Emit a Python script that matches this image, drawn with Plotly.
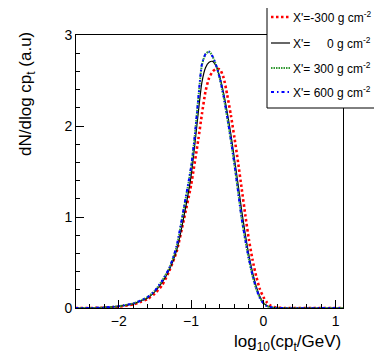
import plotly.graph_objects as go

# log10(cp_t/GeV) sample points
x_m300 = [-2.6, -2.4, -2.2, -2.0, -1.8, -1.7, -1.6, -1.5, -1.4, -1.3, -1.2, -1.1, -1.0, -0.9, -0.85,
          -0.8, -0.75, -0.7, -0.65, -0.6, -0.55, -0.5, -0.45, -0.4, -0.35, -0.3, -0.25, -0.2, -0.15,
          -0.1, -0.05, 0.0, 0.05, 0.1, 0.15, 0.2, 0.3, 1.1]
y_m300 = [0.0, 0.0, 0.004, 0.015, 0.04, 0.065, 0.10, 0.16, 0.25, 0.41, 0.62, 0.97, 1.35, 1.85, 2.13,
          2.38, 2.53, 2.60, 2.63, 2.62, 2.53, 2.34, 2.12, 1.87, 1.60, 1.31, 1.02, 0.75, 0.53,
          0.35, 0.21, 0.12, 0.06, 0.025, 0.01, 0.004, 0.0, 0.0]

x_0 = [-2.6, -2.4, -2.2, -2.0, -1.8, -1.7, -1.6, -1.5, -1.4, -1.3, -1.2, -1.1, -1.0, -0.95, -0.9,
       -0.85, -0.8, -0.75, -0.7, -0.65, -0.6, -0.55, -0.5, -0.45, -0.4, -0.35, -0.3, -0.25, -0.2,
       -0.15, -0.1, -0.05, 0.0, 0.05, 0.1, 0.2, 1.1]
y_0 = [0.0, 0.0, 0.004, 0.018, 0.045, 0.075, 0.11, 0.18, 0.28, 0.42, 0.63, 1.0, 1.45, 1.78, 2.15,
       2.48, 2.64, 2.70, 2.71, 2.65, 2.53, 2.36, 2.15, 1.91, 1.64, 1.36, 1.07, 0.81, 0.58,
       0.39, 0.24, 0.13, 0.06, 0.025, 0.01, 0.0, 0.0]

x_300 = [-2.6, -2.4, -2.2, -2.0, -1.8, -1.7, -1.6, -1.5, -1.4, -1.3, -1.2, -1.1, -1.0, -0.95, -0.9,
         -0.85, -0.8, -0.75, -0.7, -0.65, -0.6, -0.55, -0.5, -0.45, -0.4, -0.35, -0.3, -0.25, -0.2,
         -0.15, -0.1, -0.05, 0.0, 0.05, 0.1, 0.2, 1.1]
y_300 = [0.0, 0.0, 0.005, 0.02, 0.05, 0.08, 0.12, 0.19, 0.30, 0.44, 0.67, 1.09, 1.54, 1.88, 2.30,
         2.67, 2.79, 2.82, 2.76, 2.66, 2.51, 2.32, 2.09, 1.84, 1.57, 1.28, 0.98, 0.74, 0.53,
         0.35, 0.21, 0.11, 0.05, 0.02, 0.008, 0.0, 0.0]

x_600 = [-2.6, -2.4, -2.2, -2.0, -1.8, -1.7, -1.6, -1.5, -1.4, -1.3, -1.2, -1.1, -1.0, -0.95, -0.9,
         -0.85, -0.8, -0.75, -0.7, -0.65, -0.6, -0.55, -0.5, -0.45, -0.4, -0.35, -0.3, -0.25, -0.2,
         -0.15, -0.1, -0.05, 0.0, 0.05, 0.1, 0.2, 1.1]
y_600 = [0.0, 0.0, 0.005, 0.02, 0.05, 0.08, 0.12, 0.19, 0.30, 0.44, 0.68, 1.10, 1.55, 1.88, 2.30,
         2.68, 2.79, 2.81, 2.76, 2.66, 2.52, 2.33, 2.10, 1.85, 1.58, 1.28, 0.98, 0.75, 0.54,
         0.36, 0.22, 0.11, 0.05, 0.02, 0.008, 0.0, 0.0]

labels = ["X'=-300 g cm<sup>-2</sup>",
          "X'=\u00a0\u00a0\u00a0\u00a0\u00a00 g cm<sup>-2</sup>",
          "X'= 300 g cm<sup>-2</sup>",
          "X'= 600 g cm<sup>-2</sup>"]

FONT = "Liberation Sans, Arial, sans-serif"
# positions below are in screen pixels of the 382x363 page; the page body has an 8px margin
OFF = 8
W, H = 382, 363
L, R, T, B = 76, 39, 35, 55
PW, PH = W - L - R, H - T - B


def px_x(p):
    return (p - L) / PW


def px_y(p):
    return (H - B - p) / PH


styles = [
    dict(color="#ff0000", width=2.6, dash="2.5px,2.5px"),
    dict(color="#000000", width=1.2, dash="solid"),
    dict(color="#339933", width=2.0, dash="1.5px,1px"),
    dict(color="#0000ff", width=2.0, dash="3px,3px,1.5px,3px"),
]
series = [(x_m300, y_m300), (x_0, y_0), (x_300, y_300), (x_600, y_600)]

fig = go.Figure()
for (xs, ys), st, lab in zip(series, styles, labels):
    fig.add_trace(go.Scatter(x=xs, y=ys, mode="lines", line=dict(shape="spline", smoothing=0.6, **st),
                             name=lab, showlegend=False))

fig.update_layout(
    width=W - OFF, height=H - OFF,
    margin=dict(l=L - OFF, r=R, t=T - OFF, b=B),
    paper_bgcolor="white", plot_bgcolor="white",
    font=dict(family=FONT, size=14, color="black"),
)
fig.update_xaxes(range=[-2.59, 1.1], dtick=1, tick0=0, ticks="inside", ticklen=8, tickcolor="black",
                 showline=True, linecolor="black", linewidth=1, mirror=True, showgrid=False, zeroline=False,
                 minor=dict(dtick=0.2, ticks="inside", ticklen=4, tickcolor="black"))
fig.update_yaxes(range=[0, 3], dtick=1, ticks="inside", ticklen=8, tickcolor="black",
                 showline=True, linecolor="black", linewidth=1, mirror=True, showgrid=False, zeroline=False,
                 minor=dict(dtick=0.2, ticks="inside", ticklen=4, tickcolor="black"))

# axis titles, aligned to the axis ends
fig.add_annotation(text="dN/dlog cp<sub>t</sub> (a.u)", xref="paper", yref="paper",
                   x=px_x(27), y=px_y(30), xanchor="center", yanchor="top", textangle=-90,
                   showarrow=False, font=dict(size=17))
fig.add_annotation(text="log<sub>10</sub>(cp<sub>t</sub>/GeV)", xref="paper", yref="paper",
                   x=1.0, y=px_y(330), xanchor="right", yanchor="top",
                   showarrow=False, font=dict(size=17))

# legend box
fig.add_shape(type="rect", xref="paper", yref="paper", x0=px_x(267), x1=px_x(378), y0=px_y(108), y1=px_y(-2),
              line=dict(color="black", width=1), fillcolor="white", layer="above")
rows = [17, 43, 68, 92]
for r, st, lab in zip(rows, styles, labels):
    fig.add_shape(type="line", xref="paper", yref="paper", x0=px_x(271), x1=px_x(290), y0=px_y(r), y1=px_y(r),
                  line=dict(color=st["color"], width=st["width"], dash=st["dash"]), layer="above")
    fig.add_annotation(text=lab, xref="paper", yref="paper", x=px_x(291), y=px_y(r),
                       xanchor="left", yanchor="middle", showarrow=False, font=dict(size=12))

fig.write_html("out.html")
